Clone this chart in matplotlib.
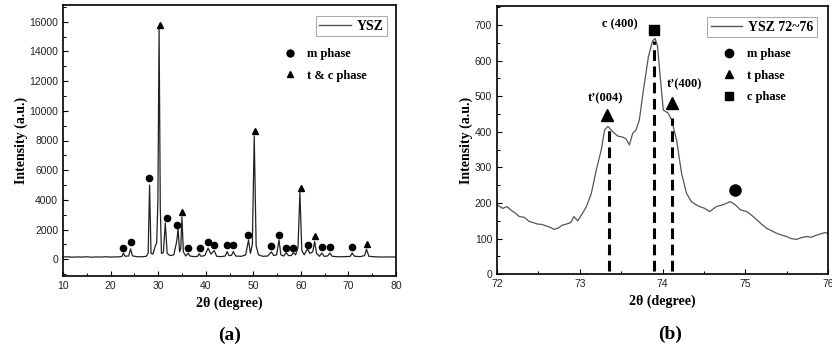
import numpy as np
import matplotlib
matplotlib.use('Agg')
import matplotlib.pyplot as plt
from matplotlib.lines import Line2D
from matplotlib.ticker import MultipleLocator

# (a) full XRD pattern, 2theta 10-80
two_theta_a = [10.0, 11.0, 12.0, 13.0, 14.0, 15.0, 16.0, 17.0, 18.0, 19.0, 20.0, 21.0,
               22.0, 22.4, 22.7, 23.0, 23.8, 24.2, 24.6, 25.5, 26.5, 27.5, 27.9, 28.2,
               28.5, 28.9, 29.4, 29.7, 29.95, 30.2, 30.45, 30.7, 31.1, 31.5, 31.9, 32.5,
               33.3, 33.9, 34.2, 34.5, 34.75, 35.0, 35.3, 35.8, 36.3, 36.7, 37.5, 38.3,
               38.6, 39.0, 39.8, 40.5, 41.1, 41.8, 42.3, 43.3, 44.1, 44.5, 44.9, 45.4,
               45.8, 46.3, 47.5, 48.4, 49.0, 49.4, 49.8, 50.2, 50.6, 51.1, 52.0, 53.0,
               53.8, 54.3, 54.9, 55.4, 55.8, 56.4, 56.9, 57.4, 58.0, 58.4, 58.9, 59.4,
               59.8, 60.2, 60.7, 61.4, 61.9, 62.5, 62.9, 63.3, 63.9, 64.4, 64.9, 65.6,
               66.1, 66.6, 68.0, 69.5, 70.4, 70.8, 71.3, 72.5, 73.4, 73.8, 74.3, 75.5,
               77.0, 78.5, 80.0]
intensity_a = [150, 170, 140, 160, 150, 170, 140, 160, 150, 170, 150, 160,
               170, 200, 420, 210, 220, 700, 230, 180, 170, 200, 400, 5000,
               400, 350, 900, 1100, 4000, 15500, 3500, 400, 450, 2450, 400, 250,
               300, 1200, 2050, 500, 700, 2850, 500, 220, 400, 220, 180, 200,
               380, 200, 250, 750, 350, 580, 200, 180, 220, 520, 250, 260,
               520, 220, 200, 300, 1300, 400, 1000, 8300, 900, 300, 200, 220,
               500, 250, 300, 1300, 300, 220, 450, 250, 250, 450, 300, 800,
               4500, 600, 300, 700, 400, 500, 1200, 400, 200, 420, 200, 220,
               420, 200, 170, 180, 200, 420, 200, 180, 250, 680, 200, 170,
               150, 160, 150]

m_phase_a_x = [22.7, 24.2, 28.1, 31.8, 34.0, 36.35, 38.7, 40.5, 41.8, 44.4, 45.8,
               48.8, 53.8, 55.5, 56.9, 58.4, 61.4, 64.4, 66.1, 70.8]
m_phase_a_y = [740, 1145, 5450, 2760, 2310, 740, 740, 1140, 960, 960, 960,
               1650, 900, 1650, 740, 740, 960, 800, 800, 800]
tc_phase_a_x = [30.4, 35.1, 50.4, 60.0, 63.0, 73.8]
tc_phase_a_y = [15800, 3180, 8650, 4800, 1550, 1050]

# (b) zoom 72-76
two_theta_b = [72.0, 72.07, 72.12, 72.17, 72.22, 72.27, 72.33, 72.39, 72.44, 72.49, 72.54,
               72.59, 72.64, 72.69, 72.74, 72.79, 72.84, 72.89, 72.93, 72.975, 73.03,
               73.08, 73.14, 73.20, 73.26, 73.30, 73.34, 73.40, 73.46, 73.52, 73.56,
               73.60, 73.64, 73.68, 73.72, 73.77, 73.83, 73.88, 73.91, 73.94, 73.97,
               74.01, 74.07, 74.11, 74.17, 74.23, 74.29, 74.35, 74.40, 74.45, 74.51,
               74.57, 74.65, 74.73, 74.82, 74.88, 74.94, 75.02, 75.08, 75.14, 75.20,
               75.26, 75.32, 75.38, 75.44, 75.50, 75.56, 75.62, 75.68, 75.74, 75.80,
               75.86, 75.92, 75.96, 76.0]
intensity_b = [195, 185, 190, 180, 172, 162, 160, 148, 145, 141, 140,
               136, 132, 126, 130, 138, 141, 145, 162, 150, 170,
               190, 227, 293, 349, 405, 415, 400, 388, 385, 380,
               363, 396, 405, 433, 518, 611, 655, 662, 640, 560,
               461, 452, 433, 377, 284, 227, 204, 196, 190, 185,
               176, 190, 195, 204, 195, 181, 176, 165, 153, 140,
               129, 122, 115, 110, 106, 100, 98, 103, 106, 104,
               110, 114, 117, 115]

ref_lines_x = [73.35, 73.90, 74.11]
ref_lines_top = [405, 655, 440]

t_phase_b = ([73.33, 74.12], [447, 480])
c_phase_b = ([73.90], [686])
m_phase_b = ([74.88], [237])

peak_labels = ["t\u2019(004)", "c (400)", "t\u2019(400)"]
peak_label_x = [73.31, 73.49, 74.27]
peak_label_y = [494, 703, 532]

serif = ['Liberation Serif', 'DejaVu Serif']
sans = ['Liberation Sans', 'DejaVu Sans']
plt.rcParams['font.family'] = sans

fig = plt.figure(figsize=(8.32, 3.51), dpi=100)
ax1 = fig.add_axes([63 / 832, 1 - 276 / 351, 333 / 832, 271 / 351])
ax2 = fig.add_axes([497 / 832, 1 - 274.3 / 351, 331 / 832, 268.3 / 351])

lab_font = dict(family=serif, weight='bold', size=10)
leg_font = dict(family=serif, weight='bold', size=9)
box_font = dict(family=serif, weight='bold', size=10)

# panel (a)
ax1.plot(two_theta_a, intensity_a, color='#222222', lw=0.9)
ax1.plot(m_phase_a_x, m_phase_a_y, 'o', color='black', ms=4.5, ls='none')
ax1.plot(tc_phase_a_x, tc_phase_a_y, '^', color='black', ms=4, ls='none')
ax1.set_xlim(10, 80)
ax1.set_ylim(-1125, 17125)
ax1.xaxis.set_major_locator(MultipleLocator(10))
ax1.xaxis.set_minor_locator(MultipleLocator(5))
ax1.yaxis.set_major_locator(MultipleLocator(2000))
ax1.yaxis.set_minor_locator(MultipleLocator(1000))
ax1.set_xlabel('2\u03b8 (degree)', fontdict=lab_font, labelpad=4)
ax1.set_ylabel('Intensity (a.u.)', fontdict=lab_font, labelpad=1)

leg1 = ax1.legend([Line2D([], [], color='#555555', lw=1)], ['YSZ'], loc='upper right',
                  bbox_to_anchor=(0.974, 0.959), borderaxespad=0, fancybox=False,
                  edgecolor='#999999', handlelength=2.3, handletextpad=0.4,
                  prop=box_font, borderpad=0.25)
leg1.get_frame().set_linewidth(0.8)
ax1.add_artist(leg1)
ax1.legend([Line2D([], [], marker='o', color='black', ls='none', ms=5),
            Line2D([], [], marker='^', color='black', ls='none', ms=4.5)],
           ['m phase', 't & c phase'], loc='upper left', bbox_to_anchor=(0.662, 0.840),
           borderaxespad=0, frameon=False, handlelength=1, handletextpad=0.9,
           labelspacing=0.75, prop=leg_font, borderpad=0)

# panel (b)
ax2.plot(two_theta_b, intensity_b, color='#555555', lw=0.9)
ax2.vlines(ref_lines_x, 10, ref_lines_top, colors='black', lw=2.2,
           linestyles=(0, (3.5, 1.8)))
ax2.plot(*t_phase_b, '^', color='black', ms=8, ls='none')
ax2.plot(*c_phase_b, 's', color='black', ms=7.5, ls='none')
ax2.plot(*m_phase_b, 'o', color='black', ms=8, ls='none')
for txt, x, y in zip(peak_labels, peak_label_x, peak_label_y):
    ax2.text(x, y, txt, ha='center', va='center', fontdict=leg_font)
ax2.set_xlim(72, 76)
ax2.set_ylim(0, 753)
ax2.xaxis.set_major_locator(MultipleLocator(1))
ax2.xaxis.set_minor_locator(MultipleLocator(0.5))
ax2.yaxis.set_major_locator(MultipleLocator(100))
ax2.yaxis.set_minor_locator(MultipleLocator(50))
ax2.set_xlabel('2\u03b8 (degree)', fontdict=lab_font, labelpad=4)
ax2.set_ylabel('Intensity (a.u.)', fontdict=lab_font, labelpad=1)

leg2 = ax2.legend([Line2D([], [], color='#555555', lw=1)], ['YSZ 72~76'], loc='upper right',
                  bbox_to_anchor=(0.966, 0.958), borderaxespad=0, fancybox=False,
                  edgecolor='#999999', handlelength=2.3, handletextpad=0.4,
                  prop=box_font, borderpad=0.25)
leg2.get_frame().set_linewidth(0.8)
ax2.add_artist(leg2)
ax2.legend([Line2D([], [], marker='o', color='black', ls='none', ms=6),
            Line2D([], [], marker='^', color='black', ls='none', ms=6),
            Line2D([], [], marker='s', color='black', ls='none', ms=5.5)],
           ['m phase', 't phase', 'c phase'], loc='upper left', bbox_to_anchor=(0.683, 0.842),
           borderaxespad=0, frameon=False, handlelength=1, handletextpad=0.9,
           labelspacing=0.75, prop=leg_font, borderpad=0)

for ax in (ax1, ax2):
    ax.tick_params(which='both', direction='in', top=False, right=False,
                   labelsize=7.5, labelcolor='#222222')
    ax.tick_params(which='major', length=3.5, width=0.8)
    ax.tick_params(which='minor', length=2, width=0.8)
    for s in ax.spines.values():
        s.set_linewidth(1.2)

fig.text(230 / 832, 1 - 335 / 351, '(a)', ha='center', va='center',
         family=serif, weight='bold', size=14)
fig.text(670 / 832, 1 - 334 / 351, '(b)', ha='center', va='center',
         family=serif, weight='bold', size=14)

fig.savefig('out.png', dpi=100)
